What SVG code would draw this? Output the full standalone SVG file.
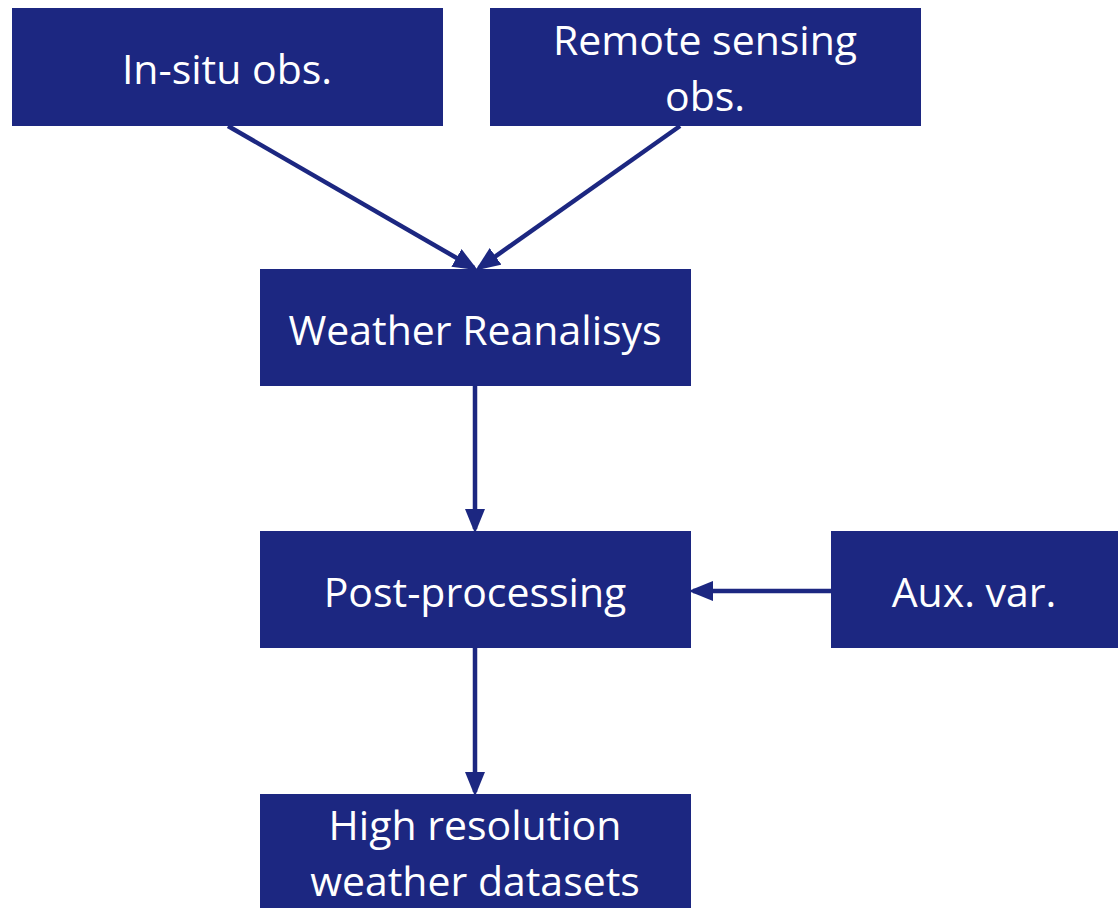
<svg xmlns="http://www.w3.org/2000/svg" width="1118" height="908" viewBox="0 0 1118 908">
<defs>
<style>
.box{fill:#1C2781}
.t{font-family:"Open Sans","Noto Sans",sans-serif;font-size:41px;fill:#ffffff;text-anchor:middle}
.c{stroke:#1C2781;stroke-width:4.5;fill:none}
</style>
<marker id="ah" markerWidth="5.5" markerHeight="4.5" refX="4.5" refY="2.25" orient="auto" markerUnits="strokeWidth">
<path d="M0,0 L5.5,2.25 L0,4.5 Z" fill="#1C2781"/>
</marker>
</defs>
<rect width="1118" height="908" fill="#ffffff"/>
<g id="connectors">
<line class="c" x1="228" y1="126" x2="474" y2="268" marker-end="url(#ah)"/>
<line class="c" x1="680" y1="126" x2="479" y2="268" marker-end="url(#ah)"/>
<line class="c" x1="475" y1="386" x2="475" y2="529" marker-end="url(#ah)"/>
<line class="c" x1="831" y1="591" x2="693" y2="591" marker-end="url(#ah)"/>
<line class="c" x1="475" y1="648" x2="475" y2="792" marker-end="url(#ah)"/>
</g>
<g id="insitu">
<rect class="box" x="12" y="8" width="431" height="118"/>
<text class="t" x="227" y="84">In-situ obs.</text>
</g>
<g id="remote">
<rect class="box" x="490" y="8" width="431" height="118"/>
<text class="t" x="705" y="55">Remote sensing</text>
<text class="t" x="705" y="111">obs.</text>
</g>
<g id="reanalysis">
<rect class="box" x="260" y="269" width="431" height="117"/>
<text class="t" x="475" y="345">Weather Reanalisys</text>
</g>
<g id="postproc">
<rect class="box" x="260" y="531" width="431" height="117"/>
<text class="t" x="475" y="607">Post-processing</text>
</g>
<g id="aux">
<rect class="box" x="831" y="531" width="287" height="117"/>
<text class="t" x="974" y="607">Aux. var.</text>
</g>
<g id="highres">
<rect class="box" x="260" y="794" width="431" height="114"/>
<text class="t" x="475" y="840">High resolution</text>
<text class="t" x="475" y="896">weather datasets</text>
</g>
</svg>
